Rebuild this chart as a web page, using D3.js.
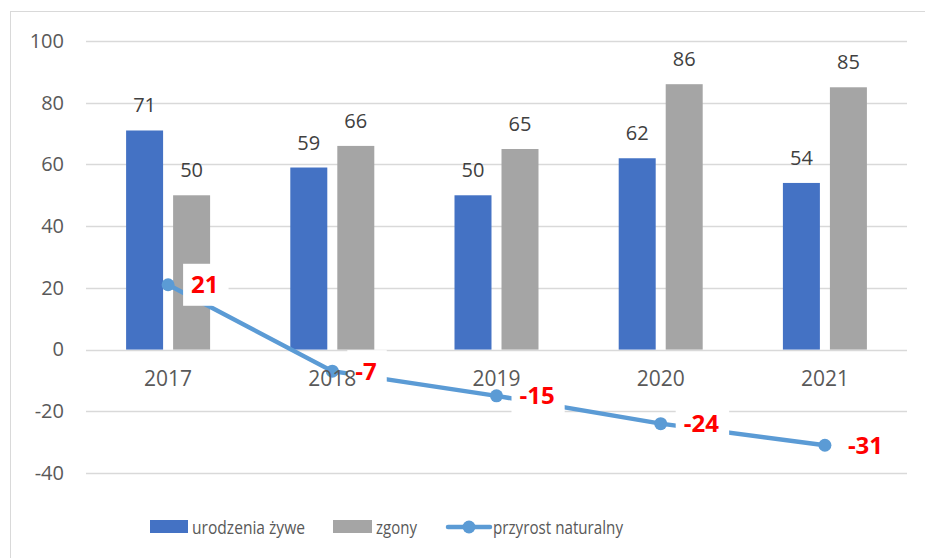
<!DOCTYPE html>
<html>
<head>
<meta charset="utf-8">
<script src="https://cdn.jsdelivr.net/npm/d3@7"></script>
<style>
  body { margin: 0; background: #fff; }
  svg { display: block; font-family: "Open Sans", sans-serif; }
</style>
</head>
<body>
<div id="chart"></div>
<script>
// dane
const years = ['2017', '2018', '2019', '2020', '2021'];
const births = [71, 59, 50, 62, 54];
const deaths = [50, 66, 65, 86, 85];
const growth = [21, -7, -15, -24, -31];
const yTicks = [-40, -20, 0, 20, 40, 60, 80, 100];
const seriesNames = ['urodzenia żywe', 'zgony', 'przyrost naturalny'];

const W = 925, H = 558;
const m = { top: 41, right: 18, bottom: 85, left: 86 };
const w = W - m.left - m.right, h = H - m.top - m.bottom;

const svg = d3.select('#chart').append('svg').attr('width', W).attr('height', H);

// ramka wykresu
svg.append('rect').attr('x', 10.5).attr('y', 11.5).attr('width', 940).attr('height', 570)
  .attr('fill', 'none').attr('stroke', '#d9d9d9');

const g = svg.append('g').attr('transform', `translate(${m.left},${m.top})`);

const x = d3.scaleBand().domain(years).range([0, w]);
const y = d3.scaleLinear().domain([-40, 100]).range([h, 0]);
const inner = d3.scaleBand().domain([0, 1]).range([x.bandwidth() / 2 - 42, x.bandwidth() / 2 + 42]).paddingInner(0.213);

// siatka
g.selectAll('.gy').data(yTicks).join('line')
  .attr('x1', 0).attr('x2', w)
  .attr('y1', d => Math.round(y(d)) + 0.5).attr('y2', d => Math.round(y(d)) + 0.5)
  .attr('stroke', '#d9d9d9').attr('stroke-width', 1.5);

// oś Y
g.append('g').call(d3.axisLeft(y).tickValues(yTicks).tickFormat(d => String(d)).tickSize(0).tickPadding(22))
  .call(a => a.select('.domain').remove())
  .selectAll('text').attr('fill', '#595959').style('font-size', '20px').style('font-family', '"Open Sans", sans-serif');

// słupki
const cols = ['#4472c4', '#a5a5a5'];
[births, deaths].forEach((vals, si) => {
  g.selectAll('.bar' + si).data(vals).join('rect')
    .attr('x', (d, i) => x(years[i]) + inner(si))
    .attr('y', d => y(d))
    .attr('width', inner.bandwidth())
    .attr('height', d => y(0) - y(d))
    .attr('fill', cols[si]);
  g.selectAll('.bl' + si).data(vals).join('text')
    .attr('x', (d, i) => x(years[i]) + inner(si) + inner.bandwidth() / 2)
    .attr('y', d => y(d) - 18)
    .attr('text-anchor', 'middle').attr('fill', '#404040').attr('font-size', '20px')
    .text(d => d);
});

// linia
const cx = (d, i) => x(years[i]) + x.bandwidth() / 2;
g.append('path').datum(growth)
  .attr('d', d3.line().x(cx).y(d => y(d)))
  .attr('fill', 'none').attr('stroke', '#5b9bd5').attr('stroke-width', 4.5).attr('stroke-linecap', 'round');
g.selectAll('.pt').data(growth).join('circle')
  .attr('cx', cx).attr('cy', d => y(d)).attr('r', 6.5).attr('fill', '#5b9bd5');

// etykiety linii - białe tło
const lbl = g.selectAll('.lbl').data(growth).join('g')
  .attr('transform', (d, i) => `translate(${cx(d, i) + 23},${y(d)})`);
lbl.append('text')
  .attr('dy', '0.35em').attr('font-size', '24px').attr('font-weight', 'bold')
  .text(d => d);
lbl.each(function () {
  const bb = d3.select(this).select('text').node().getBBox();
  d3.select(this).append('rect')
    .attr('x', bb.x - 8).attr('y', -21).attr('width', bb.width + 18).attr('height', 42)
    .attr('fill', '#fff');
});
lbl.select('text').remove();

// oś X
g.append('g').attr('transform', `translate(0,${y(0)})`)
  .call(d3.axisBottom(x).tickSize(0).tickPadding(22))
  .call(a => a.select('.domain').remove())
  .selectAll('text').attr('fill', '#595959').style('font-size', '21px').style('font-family', '"Open Sans", sans-serif');

// wartości przyrostu
g.selectAll('.lt').data(growth).join('text')
  .attr('x', (d, i) => cx(d, i) + 23).attr('y', d => y(d))
  .attr('dy', '0.35em').attr('fill', '#ff0000').attr('font-size', '24px').attr('font-weight', 'bold')
  .text(d => d);

// legenda (węższy krój jak w oryginale)
const leg = svg.append('g').attr('transform', 'translate(0,527)');
const legX = [150, 333, 448];
leg.append('rect').attr('x', legX[0]).attr('y', -7).attr('width', 38).attr('height', 13).attr('fill', cols[0]);
leg.append('rect').attr('x', legX[1]).attr('y', -7).attr('width', 39).attr('height', 13).attr('fill', cols[1]);
leg.append('line').attr('x1', legX[2]).attr('x2', legX[2] + 42).attr('y1', 0).attr('y2', 0)
  .attr('stroke', '#5b9bd5').attr('stroke-width', 4.5).attr('stroke-linecap', 'round');
leg.append('circle').attr('cx', legX[2] + 21).attr('cy', 0).attr('r', 6.5).attr('fill', '#5b9bd5');
const legTx = [192, 376, 493];
const legW = [113, 41, 130];
seriesNames.forEach((s, i) => {
  leg.append('text').attr('x', legTx[i]).attr('y', 0).attr('dy', '0.35em')
    .attr('fill', '#595959').attr('font-size', '19px')
    .attr('textLength', legW[i]).attr('lengthAdjust', 'spacingAndGlyphs')
    .text(s);
});
</script>
</body>
</html>
